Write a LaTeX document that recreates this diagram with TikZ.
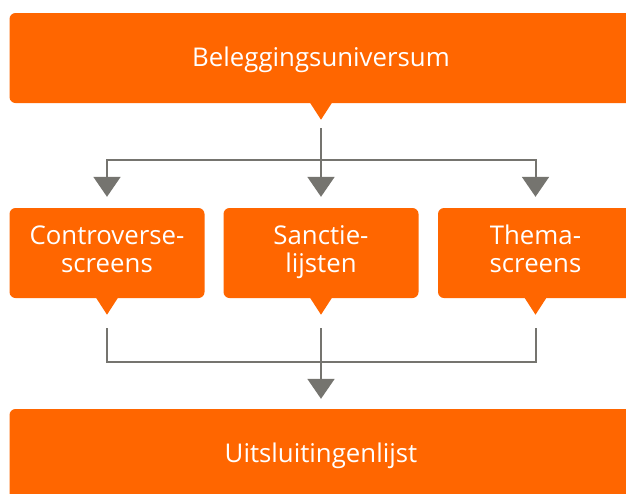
\documentclass[tikz,border=0pt]{standalone}
\usepackage{fontspec}
\setmainfont{Open Sans}
\usetikzlibrary{arrows.meta, positioning}
\definecolor{boxorange}{HTML}{FF6600}
\definecolor{linegray}{HTML}{75746F}
\tikzset{
	block/.style={
		rectangle,
		rounded corners=6pt,
		minimum width=195pt,
		minimum height=90pt,
		text centered,
		align=center,
		fill=boxorange,
		text=white,
		font=\fontsize{25.8}{28}\selectfont,
		execute at begin node={\rule{0pt}{24.4pt}},
		execute at end node=\strut,
		inner sep=0pt
	},
	wide/.style={
		block,
		minimum width=623pt,
		text depth=7.4pt
	},
	link/.style={draw=linegray, line width=2pt},
	arrow/.style={link, -{Triangle[width=27pt,length=20pt]}}
}
\newcommand{\pointer}[1]{%
	\fill[boxorange] ([xshift=-11pt,yshift=0.5pt]#1.south) -- ++(22,0) -- ++(-11,17) -- cycle;
	\coordinate (#1tip) at ([yshift=-17pt]#1.south);}

\begin{document}
\begin{tikzpicture}[x=1pt, y=-1pt]
				\clip (0,0) rectangle (626,493);
				\fill[white] (0,0) rectangle (626,493);
				
				\node (univ) [wide] at (321,58) {Beleggingsuniversum};
				\node (contr) [block] at (107,253) {Controverse-\\screens};
				\node (sanct) [block] at (321,253) {Sanctie-\\lijsten};
				\node (thema) [block] at (535.5,253) {Thema-\\screens};
				\node (excl) [wide] at (321,454) {Uitsluitingenlijst};
				
				\pointer{univ}
				\pointer{contr}
				\pointer{sanct}
				\pointer{thema}
				
				\coordinate (split) at (321,160);
				\coordinate (merge) at (321,362);
				
				% top: spread to the three screens
				\draw [link, shorten <=8pt] (univtip) -- (split);
				\draw [arrow, shorten >=11pt] (split) -| (contr.north);
				\draw [arrow, shorten >=11pt] (split) -- (sanct.north);
				\draw [arrow, shorten >=11pt] (split) -| (thema.north);
				
				% bottom: collect into the list
				\draw [link, shorten <=13pt] (contrtip) |- (merge);
				\draw [link, shorten <=13pt] (thematip) |- (merge);
				\draw [link, shorten <=13pt] (sancttip) -- (merge);
				\draw [arrow, shorten >=10pt] (merge) -- (excl.north);
			\end{tikzpicture}
\end{document}
